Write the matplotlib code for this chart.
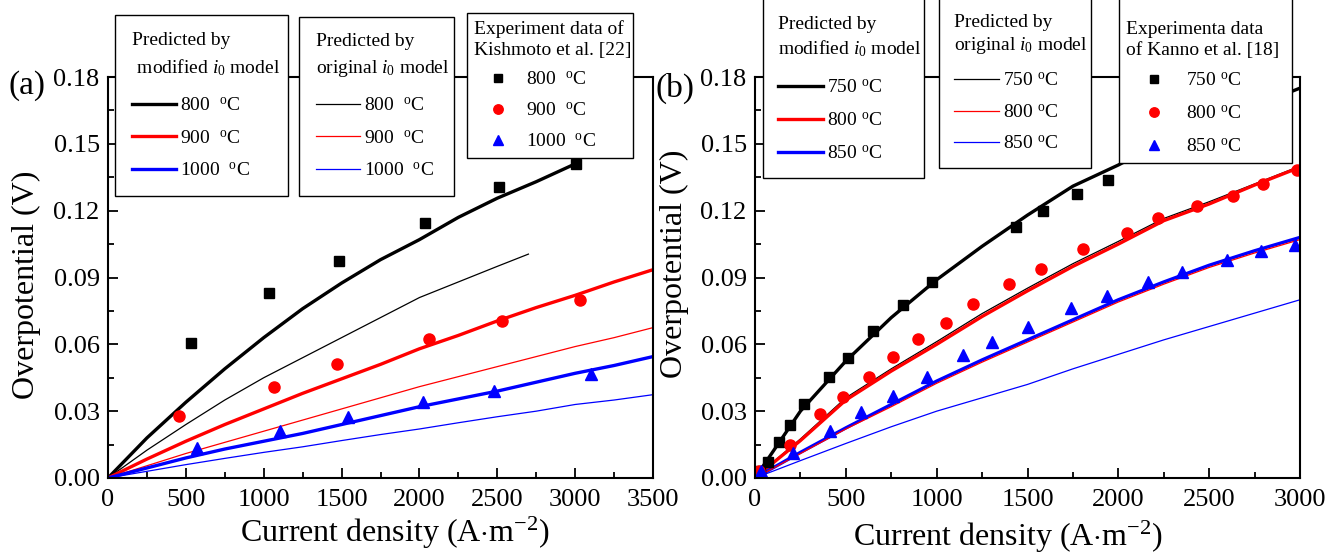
import numpy as np
import matplotlib
matplotlib.use("Agg")
import matplotlib.pyplot as plt
from matplotlib.lines import Line2D
from matplotlib.patches import Rectangle

#---------------------FONT and other graphics------------------------
matplotlib.rc('font', family='Liberation Serif', size=19)
matplotlib.rc('mathtext', fontset='custom', rm='Liberation Serif',
              it='Liberation Serif:italic', bf='Liberation Serif:bold')
matplotlib.rc('axes', linewidth=1.5)
matplotlib.rc('xtick', direction='in')
matplotlib.rc('ytick', direction='in')
matplotlib.rc('xtick.major', width=1.3, size=7)
matplotlib.rc('xtick.minor', width=1.3, size=4, visible=True)
matplotlib.rc('ytick.major', width=1.3, size=7)
matplotlib.rc('ytick.minor', width=1.3, size=4, visible=True)

#---------------------DATA (a)------------------------
cd_a = [0, 250, 500, 750, 1000, 1250, 1500, 1750, 2000, 2250, 2500, 2750, 3000, 3250, 3500]
mod_800 = [0, 0.018, 0.034, 0.049, 0.063, 0.076, 0.0875, 0.098, 0.107, 0.117, 0.1256, 0.133, 0.141]
cd_orig800 = [0, 250, 500, 750, 1000, 1250, 1500, 1750, 2000, 2250, 2500, 2700]
orig_800 = [0, 0.0125, 0.024, 0.035, 0.045, 0.054, 0.063, 0.072, 0.081, 0.088, 0.095, 0.1005]
mod_900 = [0, 0.0085, 0.0165, 0.024, 0.031, 0.038, 0.0445, 0.051, 0.058, 0.064, 0.0705, 0.0765, 0.082, 0.088, 0.0935]
orig_900 = [0, 0.0055, 0.011, 0.016, 0.021, 0.026, 0.031, 0.036, 0.041, 0.0455, 0.050, 0.0545, 0.059, 0.063, 0.0675]
mod_1000 = [0, 0.0045, 0.009, 0.013, 0.0165, 0.020, 0.024, 0.028, 0.032, 0.0355, 0.039, 0.043, 0.047, 0.0505, 0.0545]
orig_1000 = [0, 0.003, 0.006, 0.0088, 0.0115, 0.014, 0.0168, 0.0195, 0.022, 0.0248, 0.0275, 0.030, 0.033, 0.035, 0.0374]

exp_800_x = [534, 1037, 1485, 2037, 2511, 3004]
exp_800_y = [0.0605, 0.083, 0.0974, 0.1143, 0.1308, 0.1409]
exp_900_x = [458, 1067, 1471, 2059, 2533, 3031]
exp_900_y = [0.0278, 0.041, 0.051, 0.0623, 0.0705, 0.080]
exp_1000_x = [569, 1103, 1544, 2026, 2476, 3104]
exp_1000_y = [0.0135, 0.021, 0.0273, 0.0342, 0.039, 0.0468]

#---------------------DATA (b)------------------------
cd_b = [0, 100, 250, 500, 750, 1000, 1250, 1500, 1750, 2000, 2250, 2500, 2750, 3000]
mod_750 = [0, 0.012, 0.030, 0.0525, 0.072, 0.089, 0.104, 0.118, 0.131, 0.1405, 0.151, 0.159, 0.167, 0.175]
mod_800b = [0, 0.0068, 0.0168, 0.035, 0.048, 0.060, 0.0725, 0.084, 0.095, 0.105, 0.1155, 0.123, 0.1315, 0.1395]
orig_750 = [0, 0.0072, 0.0175, 0.036, 0.049, 0.0612, 0.0738, 0.0852, 0.0962, 0.1062, 0.1165, 0.124, 0.132, 0.140]
mod_850 = [0, 0.0046, 0.0115, 0.0225, 0.033, 0.0435, 0.053, 0.062, 0.071, 0.080, 0.088, 0.0955, 0.102, 0.108]
orig_800b = [0, 0.0044, 0.011, 0.022, 0.032, 0.0425, 0.052, 0.061, 0.070, 0.079, 0.087, 0.0945, 0.101, 0.107]
orig_850 = [0, 0.0031, 0.0078, 0.0155, 0.023, 0.030, 0.036, 0.042, 0.049, 0.0555, 0.062, 0.068, 0.074, 0.080]

kan_750_x = [25, 71, 134, 191, 268, 409, 513, 647, 816, 977, 1435, 1584, 1772, 1942]
kan_750_y = [0.003, 0.0072, 0.0162, 0.0236, 0.0333, 0.0453, 0.054, 0.0659, 0.0776, 0.088, 0.1128, 0.120, 0.1274, 0.1337]
kan_800_x = [20, 191, 358, 487, 626, 760, 896, 1049, 1198, 1400, 1577, 1807, 2047, 2221, 2431, 2633, 2795, 2984]
kan_800_y = [0.003, 0.0147, 0.0288, 0.0365, 0.0453, 0.0543, 0.0623, 0.0698, 0.0783, 0.087, 0.0936, 0.1027, 0.110, 0.1166, 0.1221, 0.1266, 0.132, 0.1383]
kan_850_x = [35, 209, 414, 581, 762, 948, 1146, 1304, 1501, 1737, 1939, 2162, 2348, 2600, 2788, 2970]
kan_850_y = [0.003, 0.0113, 0.0213, 0.0297, 0.0368, 0.0455, 0.0552, 0.061, 0.068, 0.0764, 0.0815, 0.0878, 0.0925, 0.098, 0.1019, 0.1046]

temps_a = ['800', '900', '1000']
temps_b = ['750', '800', '850']
colors = ['black', 'red', 'blue']
markers = ['s', 'o', '^']
msizes = [7, 8, 8]

#------------Figure Layout--------------
W, H = 1329, 553
fig = plt.figure(figsize=(W/100., H/100.), dpi=100)
ax = fig.add_axes([108./W, 1-478./H, 545./W, 401./H])
bx = fig.add_axes([755./W, 1-478./H, 545./W, 401./H])

THICK = 2.4
THIN = 0.9

#PLOT (a)
ax.plot(cd_a[:len(mod_800)], mod_800, color='black', lw=THICK)
ax.plot(cd_orig800, orig_800, color='black', lw=THIN)
ax.plot(cd_a, mod_900, color='red', lw=THICK)
ax.plot(cd_a, orig_900, color='red', lw=THIN)
ax.plot(cd_a, mod_1000, color='blue', lw=THICK)
ax.plot(cd_a, orig_1000, color='blue', lw=THIN)
ax.plot(exp_800_x, exp_800_y, 's', color='black', ms=7, ls='none')
ax.plot(exp_900_x, exp_900_y, 'o', color='red', ms=8, ls='none')
ax.plot(exp_1000_x, exp_1000_y, '^', color='blue', ms=8, ls='none')

#PLOT (b)
bx.plot(cd_b, mod_750, color='black', lw=THICK)
bx.plot(cd_b, orig_750, color='black', lw=THIN)
bx.plot(cd_b, mod_800b, color='red', lw=THICK)
bx.plot(cd_b, mod_850, color='blue', lw=THICK)
bx.plot(cd_b, orig_800b, color='red', lw=THIN)
bx.plot(cd_b, orig_850, color='blue', lw=THIN)
bx.plot(kan_750_x, kan_750_y, 's', color='black', ms=7, ls='none')
bx.plot(kan_800_x, kan_800_y, 'o', color='red', ms=8, ls='none')
bx.plot(kan_850_x, kan_850_y, '^', color='blue', ms=8, ls='none')

for a, xmax in ((ax, 3500), (bx, 3000)):
    a.set_xlim(0, xmax)
    a.set_ylim(0, 0.18)
    a.set_xticks(np.arange(0, xmax + 1, 500))
    a.set_xticks(np.arange(0, xmax + 1, 250), minor=True)
    a.set_yticks(np.arange(0, 0.181, 0.03))
    a.set_yticks(np.arange(0, 0.181, 0.015), minor=True)
    a.yaxis.set_major_formatter(matplotlib.ticker.FormatStrFormatter('%.2f'))
    a.tick_params(which='both', top=False, right=False, labelsize=19)
    a.tick_params(axis='x', pad=8)
    a.tick_params(axis='y', pad=6)

#LABELS
fig.text(26./W, 1-285./H, 'Overpotential (V)', rotation=90, fontsize=23, ha='center', va='center')
fig.text(674./W, 1-264./H, 'Overpotential (V)', rotation=90, fontsize=23, ha='center', va='center')
fig.text(395./W, 1-533./H, r'Current density (A$\cdot$m$^{-2}$)', fontsize=23, ha='center', va='center')
fig.text(1008./W, 1-537./H, r'Current density (A$\cdot$m$^{-2}$)', fontsize=23, ha='center', va='center')
fig.text(27./W, 1-86./H, '(a)', fontsize=24, ha='center', va='center')
fig.text(675./W, 1-88./H, '(b)', fontsize=24, ha='center', va='center')

#LEGENDS
FS = 14.

def box(handles, labels, title, x0, ybot, x1, tls, lsp, bpad, sep_px, hl=2.3, open_top=False):
    leg = fig.legend(handles, labels, title=title, loc='lower left',
                     bbox_to_anchor=(x0/W, 1-ybot/H, (x1-x0)/W, 0), mode='expand',
                     frameon=not open_top, fancybox=False, edgecolor='black', framealpha=1,
                     fontsize=FS, title_fontsize=FS, alignment='left',
                     handlelength=hl, handletextpad=0.2, borderaxespad=0,
                     borderpad=bpad, labelspacing=lsp)
    leg.get_frame().set_linewidth(1.0)
    leg.get_title().set_linespacing(tls)
    leg._legend_box.sep = sep_px * 0.72
    if open_top:
        # frame that runs off the top edge of the figure
        fig.add_artist(Rectangle((x0/W, 1-ybot/H), (x1-x0)/W, ybot/H + 0.05,
                                 transform=fig.transFigure, facecolor='white',
                                 edgecolor='black', lw=1.0, zorder=4.9, clip_on=False))
    return leg

thick_h = [Line2D([], [], color=c, lw=THICK) for c in colors]
thin_h = [Line2D([], [], color=c, lw=THIN) for c in colors]
mark_h = [Line2D([], [], color=c, marker=m, ms=s * 0.85, ls='none') for c, m, s in zip(colors, markers, msizes)]

lab_a = [t + r'  $^{\mathrm{o}}$C' for t in temps_a]
lab_b = [t + r' $^{\mathrm{o}}$C' for t in temps_b]

box(thick_h, lab_a, 'Predicted by\n modified $i_0$ model', 115, 196, 288, 1.55, 0.75, 0.85, 19)
box(thin_h, lab_a, 'Predicted by\noriginal $i_0$ model', 299, 196, 454, 1.55, 0.75, 0.85, 18)
box(mark_h, lab_a, 'Experiment data of\nKishmoto et al. [22]', 467, 158, 633, 1.3, 0.71, 0.35, 12, hl=2.5)

box(thick_h, lab_b, 'Predicted by\nmodified $i_0$ model', 763, 178, 924, 1.3, 0.8, 0.78, 20, open_top=True)
box(thin_h, lab_b, 'Predicted by\noriginal $i_0$ model', 939, 168, 1091, 1.3, 0.71, 0.78, 16, open_top=True)
box(mark_h, lab_b, 'Experimenta data\nof Kanno et al. [18]', 1119, 163, 1292, 1.3, 0.8, 0.35, 13, hl=2.9, open_top=True)

#SAVING
fig.savefig('out.png', dpi=100)
